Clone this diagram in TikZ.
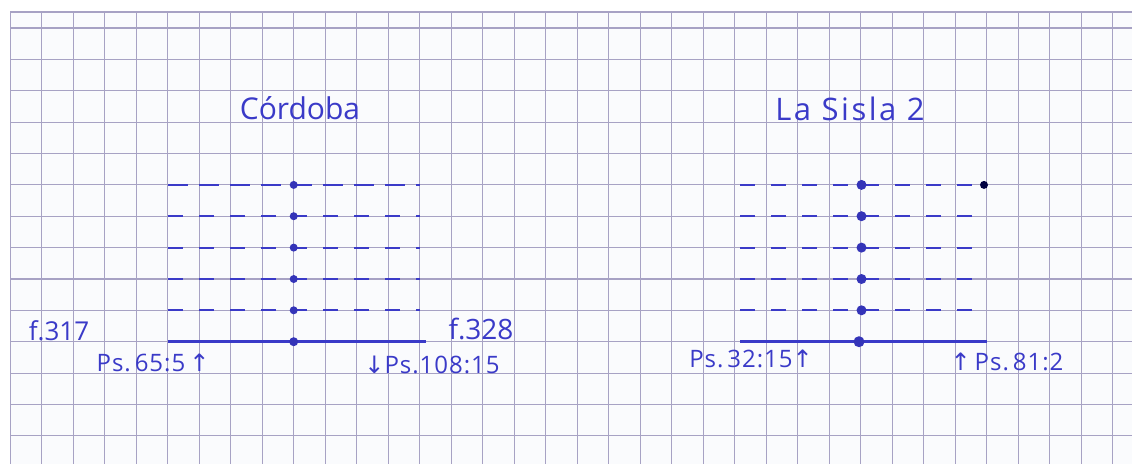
\documentclass[tikz,border=0pt]{standalone}
\usepackage{fontspec}
\setmainfont{Open Sans}
\newfontfamily\arrfont{DejaVu Sans}
\definecolor{ink}{HTML}{3A3AC8}
\definecolor{dotink}{HTML}{3434B8}
\definecolor{gridc}{HTML}{A7A2C4}
\definecolor{paper}{HTML}{FAFBFD}
\tikzset{
  gridline/.style={draw=gridc, line width=1.1pt},
  dashrow/.style={draw=ink, line width=2.2pt, dash pattern=on 15pt off 16pt},
  dashlong/.style={draw=ink, line width=2.2pt, dash pattern=on 20pt off 11pt},
  baseline row/.style={draw=ink, line width=2.8pt},
  dot/.style={circle, fill=dotink, inner sep=0pt, minimum size=#1},
  dot/.default=8pt,
  titletext/.style={text=ink, font=\fontsize{30}{32}\selectfont, inner sep=0pt},
  labeltext/.style={text=ink, font=\fontsize{24}{26}\selectfont\addfontfeature{LetterSpace=4}, inner sep=0pt},
}
\begin{document}
\begin{tikzpicture}[x=1pt,y=-1pt]
\useasboundingbox (0,0) rectangle (1132,464);
\fill[white] (0,0) rectangle (1132,464);
\fill[paper] (10,12) rectangle (1132,464);
% grid
\foreach \k in {-1,...,34} {
  \draw[gridline] ({41.7+31.5*\k},12) -- ({41.7+31.5*\k},464);
}
\draw[gridline] (10,12) -- (1132,12);
\foreach \j in {0,...,13} {
  \draw[gridline] (10,{28+31.37*\j}) -- (1132,{28+31.37*\j});
}
% titles
\node[titletext] (tcor) at (300,108) {Córdoba};
\node[titletext, font=\fontsize{31}{33}\selectfont\addfontfeature{LetterSpace=8}] (tsis) at (850,109) {La Sisla 2};
% Cordoba rows
\foreach \i/\y in {1/184.9,2/216.2,3/247.6,4/279,5/310.3} {
  \coordinate (cL\i) at (168,\y);
  \coordinate (cR\i) at (420,\y);
}
\draw[dashlong] (cL1) -- (cR1);
\foreach \i in {2,...,5} { \draw[dashrow] (cL\i) -- (cR\i); }
\foreach \i/\y in {1/184.9,2/216.2,3/247.6,4/279,5/310.3} {
  \node[dot=8pt] (cD\i) at (293.7,\y) {};
}
\coordinate (cL6) at (168,341.7);
\coordinate (cR6) at (426,341.7);
\draw[baseline row] (cL6) -- (cR6);
\node[dot=9pt] (cD6) at (293.7,341.7) {};
% La Sisla rows
\foreach \i/\y in {1/184.9,2/216.2,3/247.6,4/279,5/310.3} {
  \coordinate (sL\i) at (740,\y);
  \coordinate (sR\i) at (987,\y);
}
\foreach \i in {1,...,5} { \draw[dashrow] (sL\i) -- (sR\i); }
\foreach \i/\y in {1/184.9,2/216.2,3/247.6,4/279,5/310.3} {
  \node[dot=10pt] (sD\i) at (861.5,\y) {};
}
\node[dot=8pt, fill=black!75!blue] (sE1) at (984,184.9) {};
\coordinate (sL6) at (740,341.7);
\coordinate (sR6) at (987,341.7);
\draw[baseline row] (sL6) -- (sR6);
\node[dot=11pt] (sD6) at (859,341.7) {};
% labels
\node[labeltext, font=\fontsize{26}{28}\selectfont] (f317) at (59,331) {f.317};
\node[labeltext, font=\fontsize{28}{30}\selectfont] (f328) at (481,329) {f.328};
\node[labeltext] (ps65) at (153,363) {Ps.\,65:5\,{\arrfont ↑}};
\node[labeltext] (ps108) at (432,365) {{\arrfont ↓}Ps.108:15};
\node[labeltext] (ps32) at (751,359) {Ps.\,32:15{\arrfont ↑}};
\node[labeltext] (ps81) at (1007,362) {{\arrfont ↑}\,Ps.\,81:2};
\end{tikzpicture}
\end{document}
